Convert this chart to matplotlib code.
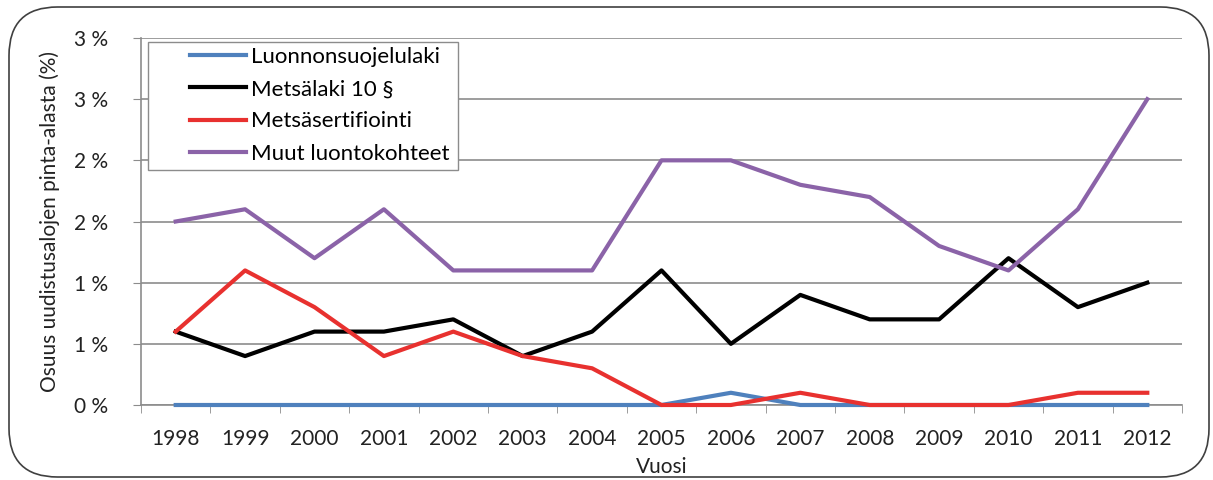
import matplotlib
matplotlib.use("Agg")
import matplotlib.pyplot as plt
from matplotlib.patches import FancyBboxPatch, Rectangle
import numpy as np

plt.rcParams['font.family'] = ['Lato', 'DejaVu Sans']

years = ["1998", "1999", "2000", "2001", "2002", "2003", "2004", "2005",
         "2006", "2007", "2008", "2009", "2010", "2011", "2012"]
luonnonsuojelulaki = [0, 0, 0, 0, 0, 0, 0, 0, 0.1, 0, 0, 0, 0, 0, 0]
metsalaki = [0.6, 0.4, 0.6, 0.6, 0.7, 0.4, 0.6, 1.1, 0.5, 0.9, 0.7, 0.7, 1.2, 0.8, 1.0]
metsasertifiointi = [0.6, 1.1, 0.8, 0.4, 0.6, 0.4, 0.3, 0.0, 0.0, 0.1, 0.0, 0.0, 0.0, 0.1, 0.1]
muut = [1.5, 1.6, 1.2, 1.6, 1.1, 1.1, 1.1, 2.0, 2.0, 1.8, 1.7, 1.3, 1.1, 1.6, 2.5]
ytick_values = [0, 0.5, 1.0, 1.5, 2.0, 2.5, 3.0]
ytick_labels = ["0 %", "1 %", "1 %", "2 %", "2 %", "3 %", "3 %"]

W, H = 1213, 480
fig = plt.figure(figsize=(W/100, H/100), dpi=100)
ax = fig.add_axes([141/W, 1 - 405/H, (1182-141)/W, (405-38)/H])

# outer rounded frame
frame = FancyBboxPatch((9/W, 3/H), 1200/W, 470/H,
                       boxstyle="round,pad=0,rounding_size=0.04",
                       transform=fig.transFigure, facecolor='none',
                       edgecolor='#404040', linewidth=1.2, mutation_aspect=W/H)
fig.patches.append(frame)

x = np.arange(len(years))
lw = 3
ax.plot(x, luonnonsuojelulaki, color='#4F81BD', lw=lw, label='Luonnonsuojelulaki', clip_on=False, zorder=4)
ax.plot(x, metsalaki, color='#000000', lw=lw, label='Metsälaki 10 §', clip_on=False, zorder=4)
ax.plot(x, metsasertifiointi, color='#E8312F', lw=lw, label='Metsäsertifiointi', clip_on=False, zorder=4)
ax.plot(x, muut, color='#8B63A8', lw=lw, label='Muut luontokohteet', clip_on=False, zorder=4)

ax.set_xlim(-0.5, len(years) - 0.5)
ax.set_ylim(0, 3.0)
ax.set_yticks(ytick_values)
ax.set_yticklabels(ytick_labels)
ax.yaxis.grid(True, color='#8C8C8C', lw=1.2)
ax.set_axisbelow(True)
ax.set_xticks(x)
ax.set_xticklabels(years)
ax.set_xticks(np.arange(len(years) + 1) - 0.5, minor=True)
ax.tick_params(axis='x', which='major', length=0, pad=17, labelsize=15, colors='#222222')
ax.tick_params(axis='x', which='minor', length=6, color='#8C8C8C', direction='out')
ax.tick_params(axis='y', length=6, color='#8C8C8C', pad=18, labelsize=15, labelcolor='#222222')
for s in ['top', 'right']:
    ax.spines[s].set_visible(False)
for s in ['left', 'bottom']:
    ax.spines[s].set_color('#8C8C8C')
    ax.spines[s].set_linewidth(1.2)

ax.set_xlabel('Vuosi', fontsize=15, color='#222222', labelpad=6)
ax.set_ylabel('Osuus uudistusalojen pinta-alasta (%)', fontsize=15, color='#222222', labelpad=10)

# legend frame
fig.patches.append(Rectangle((148/W, 1 - 170/H), (458-148)/W, (170-42)/H,
                             transform=fig.transFigure, facecolor='white',
                             edgecolor='#8C8C8C', linewidth=1.0, zorder=5))
leg = fig.legend(loc='upper left', bbox_to_anchor=(190/W, 1 - 47/H), fontsize=16,
                 frameon=False, handlelength=2.5, handletextpad=0.25,
                 labelspacing=0.55, borderpad=0, borderaxespad=0)
leg.set_zorder(6)

fig.savefig('out.png', dpi=100)
